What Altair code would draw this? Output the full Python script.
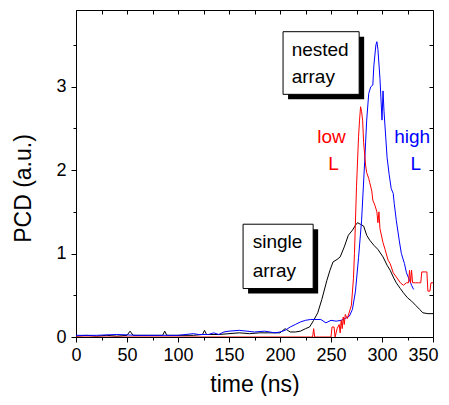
import altair as alt
import pandas as pd

# single array (black)
black_t = [0, 10, 20, 30, 40, 50, 53, 56, 70, 85, 87, 89, 100, 115, 124, 126, 128, 140, 150, 160,
           170, 180, 190, 200, 205, 210, 215, 220, 225, 229, 233, 237, 241, 246, 249, 252, 256, 259,
           263, 267, 271, 274, 276, 279, 282, 285, 288, 292, 296, 301, 305, 308, 311, 314, 318, 321,
           325, 329, 333, 337, 340, 345, 350]
black_v = [0.01, 0.02, 0.01, 0.02, 0.01, 0.02, 0.07, 0.02, 0.02, 0.02, 0.07, 0.02, 0.02, 0.02, 0.03, 0.08, 0.03, 0.03, 0.04, 0.05,
           0.04, 0.05, 0.05, 0.05, 0.10, 0.06, 0.06, 0.07, 0.10, 0.12, 0.20, 0.29, 0.45, 0.68, 0.80, 0.90, 0.93, 0.96,
           1.08, 1.22, 1.28, 1.34, 1.37, 1.35, 1.33, 1.22, 1.16, 1.10, 1.05, 0.96, 0.86, 0.80, 0.72, 0.65, 0.58, 0.53,
           0.47, 0.43, 0.38, 0.33, 0.29, 0.28, 0.28]

# nested array, high L (blue)
blue_t = [0, 20, 40, 60, 80, 100, 115, 120, 130, 135, 140, 145, 150, 160, 175, 185, 195, 200, 205, 210,
          215, 220, 225, 230, 240, 245, 250, 255, 260, 265, 268, 271, 274, 277, 280, 283, 285, 287, 289,
          291, 292, 294, 295, 296, 298, 300, 301, 302, 305, 307, 309, 311, 312, 314, 317, 319, 322, 324,
          327, 329, 331]
blue_v = [0.02, 0.02, 0.03, 0.02, 0.02, 0.02, 0.04, 0.03, 0.03, 0.05, 0.03, 0.06, 0.07, 0.08, 0.06, 0.07, 0.05, 0.06, 0.08, 0.12,
          0.15, 0.18, 0.20, 0.21, 0.21, 0.17, 0.20, 0.19, 0.20, 0.23, 0.25, 0.33, 0.55, 0.95, 1.40, 2.10, 2.60, 2.92, 3.00,
          3.02, 3.25, 3.50, 3.54, 3.45, 3.10, 2.60, 2.95, 2.70, 2.15, 1.95, 1.78, 1.72, 1.60, 1.40, 1.15, 1.00, 0.88, 0.77,
          0.68, 0.62, 0.57]

# nested array, low L (red)
red_t = [0, 230, 232, 233, 234, 250, 251, 253, 254, 256, 258, 259, 260, 261, 262, 263, 264, 266, 268, 270,
         272, 273, 275, 277, 278, 279, 280, 281, 282, 284, 285, 287, 288, 290, 291, 293, 295, 296, 297, 298,
         301, 303, 306, 308, 311, 314, 318, 321, 324, 326, 327, 328, 329, 330, 333, 336, 338, 339, 342, 344,
         345, 347, 348, 350]
red_v = [0.0, 0.0, 0.0, 0.10, 0.0, 0.0, 0.12, 0.12, 0.0, 0.10, 0.15, 0.05, 0.20, 0.10, 0.24, 0.15, 0.27, 0.22, 0.30, 0.38,
         0.70, 1.00, 1.80, 2.40, 2.60, 2.76, 2.70, 2.60, 2.33, 2.05, 1.97, 1.90, 1.85, 1.75, 1.64, 1.58, 1.50, 1.37, 1.50, 1.30,
         1.13, 1.05, 0.92, 0.88, 0.77, 0.72, 0.65, 0.62, 0.65, 0.65, 0.80, 0.65, 0.80, 0.65, 0.65, 0.65, 0.65, 0.78, 0.78, 0.78,
         0.55, 0.55, 0.65, 0.65]

x_ticks = list(range(0, 351, 25))
y_ticks = [0, 0.5, 1, 1.5, 2, 2.5, 3, 3.5]

frames = []
for name, ts, vs in [("single", black_t, black_v), ("high", blue_t, blue_v), ("low", red_t, red_v)]:
    frames.append(pd.DataFrame({"t": ts, "v": vs, "s": name}))
lines_df = pd.concat(frames, ignore_index=True)

# annotation boxes: x, x2, y, y2 in data units
boxes = pd.DataFrame({
    "x": [163.8, 203.0], "x2": [232.5, 277.6],
    "y": [1.352, 3.66], "y2": [0.581, 2.909],
})
shadow_dx = 4.9
shadow_dy = 0.06
shadows = boxes.assign(x=boxes.x + shadow_dx, x2=boxes.x2 + shadow_dx,
                       y=boxes.y - shadow_dy, y2=boxes.y2 - shadow_dy)

labels = pd.DataFrame({
    "t": [173.2, 173.2, 211.4, 211.4, 250.5, 252.5, 329.5, 333.0],
    "v": [1.068, 0.724, 3.364, 3.044, 2.324, 2.004, 2.324, 2.004],
    "txt": ["single", "array", "nested", "array", "low", "L", "high", "L"],
    "col": ["black", "black", "black", "black", "#ff0000", "#ff0000", "#0000ff", "#0000ff"],
    "al": ["left", "left", "left", "left", "center", "center", "center", "center"],
})

FONT = "Liberation Sans"
xs = alt.Scale(domain=[0, 350], nice=False, zero=False)
ys = alt.Scale(domain=[0, 3.92], nice=False, zero=False)

x_axis = alt.Axis(values=x_ticks, title="time (ns)", grid=False,
                  labelExpr="datum.value % 50 == 0 ? format(datum.value, 'd') : ''",
                  tickSize={"condition": {"test": "datum.value % 50 == 0", "value": 5}, "value": 3},
                  labelOffset={"condition": {"test": "datum.value == 350", "value": -10}, "value": 0},
                  labelFontSize=18, titleFontSize=23, labelFont=FONT, titleFont=FONT,
                  labelColor="black", titleColor="black", domainColor="black", tickColor="black",
                  labelPadding=4, titlePadding=9, titleFontWeight="normal", labelFlush=False)
y_axis = alt.Axis(values=y_ticks, title="PCD (a.u.)", grid=False,
                  labelExpr="datum.value % 1 == 0 ? format(datum.value, 'd') : ''",
                  tickSize={"condition": {"test": "datum.value % 1 == 0", "value": 5}, "value": 3},
                  labelFontSize=18, titleFontSize=23, labelFont=FONT, titleFont=FONT,
                  labelColor="black", titleColor="black", domainColor="black", tickColor="black",
                  labelPadding=5, titlePadding=20, titleY=178, titleFontWeight="normal", labelFlush=False)

lines = alt.Chart(lines_df).mark_line(strokeWidth=1, clip=True).encode(
    x=alt.X("t:Q", scale=xs, axis=x_axis),
    y=alt.Y("v:Q", scale=ys, axis=y_axis),
    color=alt.Color("s:N", scale=alt.Scale(domain=["single", "high", "low"],
                                           range=["black", "#0000ff", "#ff0000"]), legend=None),
    detail="s:N",
)

mirror = alt.Chart(lines_df).mark_line(opacity=0).encode(
    x=alt.X("t:Q", scale=xs, axis=alt.Axis(orient="top", values=x_ticks, labels=False, title=None,
                                           grid=False, domainColor="black", tickColor="black",
                                           tickSize={"expr": "-4"})),
    y=alt.Y("v:Q", scale=ys, axis=alt.Axis(orient="right", values=y_ticks, labels=False, title=None,
                                           grid=False, domainColor="black", tickColor="black",
                                           tickSize={"expr": "-4"})),
)

shadow_layer = alt.Chart(shadows).mark_rect(color="black").encode(
    x=alt.X("x:Q", axis=None), x2="x2", y=alt.Y("y:Q", axis=None), y2="y2")
box_layer = alt.Chart(boxes).mark_rect(fill="white", stroke="black", strokeWidth=1).encode(
    x=alt.X("x:Q", axis=None), x2="x2", y=alt.Y("y:Q", axis=None), y2="y2")

text_left = alt.Chart(labels[labels.al == "left"]).mark_text(
    align="left", baseline="alphabetic", fontSize=19, font=FONT).encode(
    x=alt.X("t:Q", axis=None), y=alt.Y("v:Q", axis=None), text="txt:N",
    color=alt.Color("col:N", scale=None))
text_center = alt.Chart(labels[labels.al == "center"]).mark_text(
    align="center", baseline="alphabetic", fontSize=19, font=FONT).encode(
    x=alt.X("t:Q", axis=None), y=alt.Y("v:Q", axis=None), text="txt:N",
    color=alt.Color("col:N", scale=None))

chart = alt.layer(lines, mirror, shadow_layer, box_layer, text_left, text_center).resolve_axis(
    x="independent", y="independent"
).properties(
    width=357, height=327,
    autosize=alt.AutoSizeParams(type="none"),
    padding={"left": 68, "top": 2, "right": 8, "bottom": 59},
).configure_view(stroke="black", strokeWidth=1).configure(background="white")

chart.save("out.html", embed_options={"renderer": "svg", "actions": False})
